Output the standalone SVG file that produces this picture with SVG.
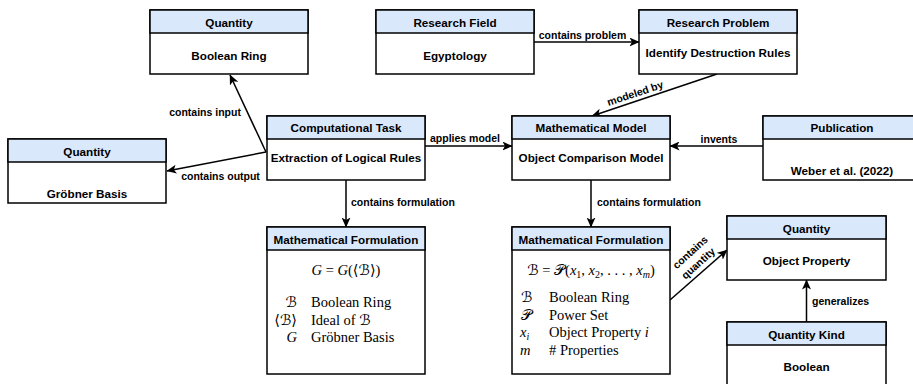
<svg xmlns="http://www.w3.org/2000/svg" width="913" height="384" viewBox="0 0 913 384">
<style>
.box{fill:#fff;stroke:#000;stroke-width:1.5}
.hd{fill:#dae8fc;stroke:#000;stroke-width:1.5}
.t{font-family:"Liberation Sans",Arial,sans-serif;font-weight:bold;font-size:11.7px;fill:#000;text-anchor:middle;dominant-baseline:central}
.lbl{font-family:"Liberation Sans",Arial,sans-serif;font-weight:bold;font-size:10.5px;fill:#000;dominant-baseline:central}
.m{font-family:"Liberation Serif","DejaVu Serif","DejaVu Sans",serif;font-size:14.5px;fill:#000}
.i{font-style:italic}
.edge{fill:none;stroke:#000;stroke-width:1.5}
</style>
<defs>
<marker id="arr" markerUnits="userSpaceOnUse" markerWidth="10" markerHeight="9" refX="9.5" refY="4.5" orient="auto">
<path d="M0,0 L10,4.5 L0,9 L2.5,4.5 z" fill="#000"/>
</marker>
</defs>
<rect width="913" height="384" fill="#fff"/>

<g id="connectors">
<path class="edge" d="M266,152 L230,75" marker-end="url(#arr)"/>
<path class="edge" d="M266,152 L167,171" marker-end="url(#arr)"/>
<path class="edge" d="M534,42 L639,42" marker-end="url(#arr)"/>
<path class="edge" d="M717,74 L592,116" marker-end="url(#arr)"/>
<path class="edge" d="M425,146 L512,146" marker-end="url(#arr)"/>
<path class="edge" d="M763,146 L670,146" marker-end="url(#arr)"/>
<path class="edge" d="M346,180 L346,227" marker-end="url(#arr)"/>
<path class="edge" d="M591,180 L591,227" marker-end="url(#arr)"/>
<path class="edge" d="M670,300 L727,250" marker-end="url(#arr)"/>
<path class="edge" d="M806.5,322 L806.5,280" marker-end="url(#arr)"/>
<text class="lbl" x="205" y="112" text-anchor="middle">contains input</text>
<text class="lbl" x="220.5" y="176" text-anchor="middle">contains output</text>
<text class="lbl" x="582.5" y="35" text-anchor="middle">contains problem</text>
<text class="lbl" x="635" y="93" text-anchor="middle" transform="rotate(-18.6 635 93)">modeled by</text>
<text class="lbl" x="465" y="138.3" text-anchor="middle">applies model</text>
<text class="lbl" x="719" y="139.3" text-anchor="middle">invents</text>
<text class="lbl" x="351" y="201.7">contains formulation</text>
<text class="lbl" x="597" y="201.7">contains formulation</text>
<text class="lbl" x="690" y="252" text-anchor="middle" transform="rotate(-42 690 252)">contains</text>
<text class="lbl" x="698" y="263" text-anchor="middle" transform="rotate(-42 698 263)">quantity</text>
<text class="lbl" x="812" y="301">generalizes</text>
</g>

<g id="quantity-boolean-ring">
<rect class="box" x="150" y="10" width="158" height="64"/>
<rect class="hd" x="150" y="10" width="158" height="23"/>
<text class="t" x="229" y="22">Quantity</text>
<text class="t" x="229" y="55">Boolean Ring</text>
</g>

<g id="quantity-groebner-basis">
<rect class="box" x="8" y="139" width="158" height="64"/>
<rect class="hd" x="8" y="139" width="158" height="23"/>
<text class="t" x="87" y="151">Quantity</text>
<text class="t" x="87" y="193">Gröbner Basis</text>
</g>

<g id="computational-task">
<rect class="box" x="267" y="116" width="158" height="64"/>
<rect class="hd" x="267" y="116" width="158" height="23"/>
<text class="t" x="346" y="127.5">Computational Task</text>
<text class="t" x="346" y="157">Extraction of Logical Rules</text>
</g>

<g id="research-field">
<rect class="box" x="376" y="10" width="158" height="64"/>
<rect class="hd" x="376" y="10" width="158" height="23"/>
<text class="t" x="455" y="22">Research Field</text>
<text class="t" x="455" y="55">Egyptology</text>
</g>

<g id="research-problem">
<rect class="box" x="639" y="10" width="158" height="64"/>
<rect class="hd" x="639" y="10" width="158" height="23"/>
<text class="t" x="718" y="22">Research Problem</text>
<text class="t" x="718" y="52">Identify Destruction Rules</text>
</g>

<g id="mathematical-model">
<rect class="box" x="512" y="116" width="158" height="64"/>
<rect class="hd" x="512" y="116" width="158" height="23"/>
<text class="t" x="591" y="127.5">Mathematical Model</text>
<text class="t" x="591" y="157">Object Comparison Model</text>
</g>

<g id="publication">
<rect class="box" x="763" y="116" width="158" height="64"/>
<rect class="hd" x="763" y="116" width="158" height="23"/>
<text class="t" x="842" y="127.5">Publication</text>
<text class="t" x="842" y="170">Weber et al. (2022)</text>
</g>

<g id="formulation-left">
<rect class="box" x="267" y="227" width="158" height="147"/>
<rect class="hd" x="267" y="227" width="158" height="23"/>
<text class="t" x="346" y="239">Mathematical Formulation</text>
<text class="m" x="346" y="275" text-anchor="middle"><tspan class="i">G</tspan> = <tspan class="i">G</tspan>(⟨ℬ⟩)</text>
<text class="m" x="297" y="307" text-anchor="end">ℬ</text>
<text class="m" x="311" y="307">Boolean Ring</text>
<text class="m" x="297" y="324.5" text-anchor="end">⟨ℬ⟩</text>
<text class="m" x="311" y="324.5">Ideal of ℬ</text>
<text class="m i" x="297" y="342" text-anchor="end">G</text>
<text class="m" x="311" y="342">Gröbner Basis</text>
</g>

<g id="formulation-right">
<rect class="box" x="512" y="227" width="158" height="147"/>
<rect class="hd" x="512" y="227" width="158" height="23"/>
<text class="t" x="591" y="239">Mathematical Formulation</text>
<text class="m" x="591" y="275" text-anchor="middle">ℬ = 𝒫(<tspan class="i">x</tspan><tspan font-size="10" dy="3">1</tspan><tspan dy="-3">, </tspan><tspan class="i">x</tspan><tspan font-size="10" dy="3">2</tspan><tspan dy="-3">, . . . , </tspan><tspan class="i">x</tspan><tspan class="i" font-size="10" dy="3">m</tspan><tspan dy="-3">)</tspan></text>
<text class="m" x="521" y="302">ℬ</text>
<text class="m" x="549" y="302">Boolean Ring</text>
<text class="m" x="521" y="319.5">𝒫</text>
<text class="m" x="549" y="319.5">Power Set</text>
<text class="m" x="520" y="337"><tspan class="i">x</tspan><tspan class="i" font-size="10" dy="3">i</tspan></text>
<text class="m" x="549" y="337">Object Property <tspan class="i">i</tspan></text>
<text class="m i" x="520" y="354.5">m</text>
<text class="m" x="549" y="354.5"># Properties</text>
</g>

<g id="quantity-object-property">
<rect class="box" x="727" y="216" width="159" height="64"/>
<rect class="hd" x="727" y="216" width="159" height="23"/>
<text class="t" x="806.5" y="228">Quantity</text>
<text class="t" x="806.5" y="260">Object Property</text>
</g>

<g id="quantity-kind-boolean">
<rect class="box" x="727" y="322" width="159" height="70"/>
<rect class="hd" x="727" y="322" width="159" height="23"/>
<text class="t" x="806.5" y="334">Quantity Kind</text>
<text class="t" x="806.5" y="366">Boolean</text>
</g>
</svg>
